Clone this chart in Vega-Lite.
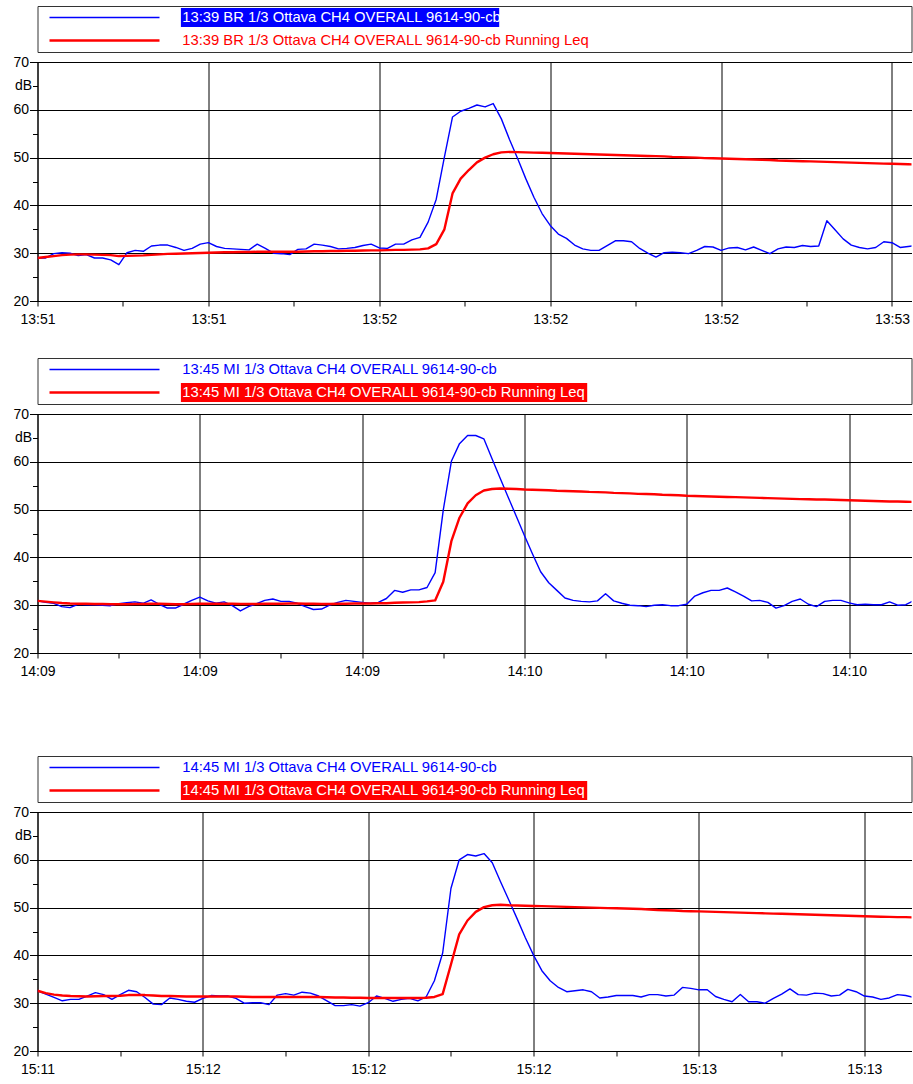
{
  "$schema": "https://vega.github.io/schema/vega-lite/v6.json",
  "padding": {"left": 12.5, "top": 5, "right": 0, "bottom": 0},
  "bounds": "flush",
  "spacing": 10,
  "datasets": {
    "g1": [
      {"series": "L", "label": "13:39 BR 1/3 Ottava CH4 OVERALL 9614-90-cb"},
      {"series": "Q", "label": "13:39 BR 1/3 Ottava CH4 OVERALL 9614-90-cb Running Leq"}
    ],
    "g2": [
      {"series": "L", "label": "13:45 MI 1/3 Ottava CH4 OVERALL 9614-90-cb"},
      {"series": "Q", "label": "13:45 MI 1/3 Ottava CH4 OVERALL 9614-90-cb Running Leq"}
    ],
    "g3": [
      {"series": "L", "label": "14:45 MI 1/3 Ottava CH4 OVERALL 9614-90-cb"},
      {"series": "Q", "label": "14:45 MI 1/3 Ottava CH4 OVERALL 9614-90-cb Running Leq"}
    ],
    "p1": [
      {"s":49880,"L":29.0,"Q":29.0},{"s":49881,"L":29.0,"Q":29.2},{"s":49882,"L":29.9,"Q":29.4},{"s":49883,"L":30.1,"Q":29.6},
      {"s":49884,"L":30.0,"Q":29.7},{"s":49885,"L":29.5,"Q":29.75},{"s":49886,"L":29.7,"Q":29.75},{"s":49887,"L":29.0,"Q":29.7},
      {"s":49888,"L":29.0,"Q":29.65},{"s":49889,"L":28.6,"Q":29.6},{"s":49890,"L":27.6,"Q":29.4},{"s":49891,"L":30.1,"Q":29.45},
      {"s":49892,"L":30.6,"Q":29.5},{"s":49893,"L":30.4,"Q":29.55},{"s":49894,"L":31.5,"Q":29.65},{"s":49895,"L":31.7,"Q":29.75},
      {"s":49896,"L":31.7,"Q":29.85},{"s":49897,"L":31.2,"Q":29.9},{"s":49898,"L":30.6,"Q":29.95},{"s":49899,"L":31.0,"Q":30.0},
      {"s":49900,"L":31.9,"Q":30.05},{"s":49901,"L":32.2,"Q":30.1},{"s":49902,"L":31.4,"Q":30.15},{"s":49903,"L":31.0,"Q":30.2},
      {"s":49904,"L":30.9,"Q":30.2},{"s":49905,"L":30.8,"Q":30.25},{"s":49906,"L":30.7,"Q":30.25},{"s":49907,"L":31.9,"Q":30.3},
      {"s":49908,"L":31.0,"Q":30.3},{"s":49909,"L":30.0,"Q":30.3},{"s":49910,"L":29.9,"Q":30.3},{"s":49911,"L":29.7,"Q":30.3},
      {"s":49912,"L":30.8,"Q":30.3},{"s":49913,"L":30.9,"Q":30.35},{"s":49914,"L":31.9,"Q":30.4},{"s":49915,"L":31.7,"Q":30.4},
      {"s":49916,"L":31.4,"Q":30.45},{"s":49917,"L":30.9,"Q":30.45},{"s":49918,"L":31.0,"Q":30.5},{"s":49919,"L":31.2,"Q":30.5},
      {"s":49920,"L":31.6,"Q":30.55},{"s":49921,"L":31.9,"Q":30.6},{"s":49922,"L":31.1,"Q":30.6},{"s":49923,"L":31.0,"Q":30.65},
      {"s":49924,"L":31.9,"Q":30.7},{"s":49925,"L":31.9,"Q":30.7},{"s":49926,"L":32.8,"Q":30.75},{"s":49927,"L":33.3,"Q":30.8},
      {"s":49928,"L":36.5,"Q":31.0},{"s":49929,"L":41.3,"Q":31.9},{"s":49930,"L":50.1,"Q":35.0},{"s":49931,"L":58.5,"Q":42.5},
      {"s":49932,"L":59.7,"Q":45.6},{"s":49933,"L":60.3,"Q":47.4},{"s":49934,"L":61.0,"Q":49.0},{"s":49935,"L":60.6,"Q":50.0},
      {"s":49936,"L":61.3,"Q":50.7},{"s":49937,"L":58.1,"Q":51.1},{"s":49938,"L":53.8,"Q":51.2},{"s":49939,"L":49.8,"Q":51.15},
      {"s":49940,"L":45.6,"Q":51.1},{"s":49941,"L":41.7,"Q":51.05},{"s":49942,"L":38.3,"Q":51.0},{"s":49943,"L":35.8,"Q":50.95},
      {"s":49944,"L":34.0,"Q":50.9},{"s":49945,"L":33.1,"Q":50.85},{"s":49946,"L":31.7,"Q":50.8},{"s":49947,"L":30.9,"Q":50.75},
      {"s":49948,"L":30.6,"Q":50.7},{"s":49949,"L":30.6,"Q":50.65},{"s":49950,"L":31.6,"Q":50.6},{"s":49951,"L":32.6,"Q":50.55},
      {"s":49952,"L":32.6,"Q":50.5},{"s":49953,"L":32.4,"Q":50.45},{"s":49954,"L":31.0,"Q":50.4},{"s":49955,"L":30.0,"Q":50.35},
      {"s":49956,"L":29.2,"Q":50.3},{"s":49957,"L":30.1,"Q":50.25},{"s":49958,"L":30.2,"Q":50.15},{"s":49959,"L":30.1,"Q":50.1},
      {"s":49960,"L":29.9,"Q":50.05},{"s":49961,"L":30.6,"Q":50.0},{"s":49962,"L":31.4,"Q":49.9},{"s":49963,"L":31.3,"Q":49.85},
      {"s":49964,"L":30.6,"Q":49.8},{"s":49965,"L":31.1,"Q":49.75},{"s":49966,"L":31.2,"Q":49.7},{"s":49967,"L":30.7,"Q":49.65},
      {"s":49968,"L":31.3,"Q":49.6},{"s":49969,"L":30.6,"Q":49.55},{"s":49970,"L":29.9,"Q":49.5},{"s":49971,"L":30.9,"Q":49.4},
      {"s":49972,"L":31.3,"Q":49.35},{"s":49973,"L":31.2,"Q":49.3},{"s":49974,"L":31.6,"Q":49.25},{"s":49975,"L":31.4,"Q":49.2},
      {"s":49976,"L":31.5,"Q":49.15},{"s":49977,"L":36.8,"Q":49.1},{"s":49978,"L":34.9,"Q":49.05},{"s":49979,"L":33.0,"Q":49.0},
      {"s":49980,"L":31.7,"Q":48.95},{"s":49981,"L":31.2,"Q":48.9},{"s":49982,"L":30.9,"Q":48.85},{"s":49983,"L":31.2,"Q":48.8},
      {"s":49984,"L":32.4,"Q":48.75},{"s":49985,"L":32.2,"Q":48.7},{"s":49986,"L":31.2,"Q":48.65},{"s":49987,"L":31.4,"Q":48.6},
      {"s":49988,"L":31.6,"Q":48.55}
    ],
    "p2": [
      {"s":50940,"L":30.9,"Q":30.9},{"s":50941,"L":30.6,"Q":30.75},{"s":50942,"L":30.4,"Q":30.6},{"s":50943,"L":29.7,"Q":30.45},
      {"s":50944,"L":29.5,"Q":30.35},{"s":50945,"L":30.2,"Q":30.3},{"s":50946,"L":30.1,"Q":30.3},{"s":50947,"L":30.1,"Q":30.25},
      {"s":50948,"L":30.0,"Q":30.25},{"s":50949,"L":29.9,"Q":30.2},{"s":50950,"L":30.3,"Q":30.2},{"s":50951,"L":30.5,"Q":30.2},
      {"s":50952,"L":30.7,"Q":30.25},{"s":50953,"L":30.4,"Q":30.25},{"s":50954,"L":31.1,"Q":30.3},{"s":50955,"L":30.2,"Q":30.3},
      {"s":50956,"L":29.4,"Q":30.25},{"s":50957,"L":29.4,"Q":30.2},{"s":50958,"L":30.2,"Q":30.2},{"s":50959,"L":31.0,"Q":30.25},
      {"s":50960,"L":31.7,"Q":30.3},{"s":50961,"L":30.9,"Q":30.3},{"s":50962,"L":30.4,"Q":30.3},{"s":50963,"L":30.7,"Q":30.3},
      {"s":50964,"L":29.9,"Q":30.3},{"s":50965,"L":28.8,"Q":30.25},{"s":50966,"L":29.7,"Q":30.25},{"s":50967,"L":30.3,"Q":30.25},
      {"s":50968,"L":31.0,"Q":30.3},{"s":50969,"L":31.3,"Q":30.3},{"s":50970,"L":30.8,"Q":30.3},{"s":50971,"L":30.8,"Q":30.35},
      {"s":50972,"L":30.4,"Q":30.35},{"s":50973,"L":29.7,"Q":30.3},{"s":50974,"L":29.1,"Q":30.3},{"s":50975,"L":29.2,"Q":30.25},
      {"s":50976,"L":30.0,"Q":30.25},{"s":50977,"L":30.6,"Q":30.3},{"s":50978,"L":31.0,"Q":30.3},{"s":50979,"L":30.8,"Q":30.35},
      {"s":50980,"L":30.6,"Q":30.35},{"s":50981,"L":30.4,"Q":30.35},{"s":50982,"L":30.6,"Q":30.4},{"s":50983,"L":31.4,"Q":30.4},
      {"s":50984,"L":33.1,"Q":30.5},{"s":50985,"L":32.7,"Q":30.55},{"s":50986,"L":33.2,"Q":30.6},{"s":50987,"L":33.2,"Q":30.65},
      {"s":50988,"L":33.7,"Q":30.8},{"s":50989,"L":36.8,"Q":31.0},{"s":50990,"L":49.9,"Q":34.9},{"s":50991,"L":60.1,"Q":43.4},
      {"s":50992,"L":63.8,"Q":48.3},{"s":50993,"L":65.5,"Q":51.3},{"s":50994,"L":65.5,"Q":53.0},{"s":50995,"L":64.8,"Q":54.0},
      {"s":50996,"L":60.7,"Q":54.3},{"s":50997,"L":56.6,"Q":54.4},{"s":50998,"L":52.6,"Q":54.35},{"s":50999,"L":48.6,"Q":54.3},
      {"s":51000,"L":44.6,"Q":54.2},{"s":51001,"L":40.7,"Q":54.15},{"s":51002,"L":37.0,"Q":54.1},{"s":51003,"L":34.7,"Q":54.05},
      {"s":51004,"L":33.1,"Q":53.95},{"s":51005,"L":31.5,"Q":53.9},{"s":51006,"L":31.0,"Q":53.85},{"s":51007,"L":30.8,"Q":53.8},
      {"s":51008,"L":30.7,"Q":53.7},{"s":51009,"L":30.9,"Q":53.65},{"s":51010,"L":32.4,"Q":53.6},{"s":51011,"L":30.9,"Q":53.5},
      {"s":51012,"L":30.4,"Q":53.45},{"s":51013,"L":30.0,"Q":53.4},{"s":51014,"L":29.9,"Q":53.3},{"s":51015,"L":29.7,"Q":53.25},
      {"s":51016,"L":30.0,"Q":53.2},{"s":51017,"L":30.1,"Q":53.1},{"s":51018,"L":29.9,"Q":53.05},{"s":51019,"L":29.9,"Q":53.0},
      {"s":51020,"L":30.2,"Q":52.9},{"s":51021,"L":31.9,"Q":52.85},{"s":51022,"L":32.6,"Q":52.8},{"s":51023,"L":33.1,"Q":52.75},
      {"s":51024,"L":33.1,"Q":52.7},{"s":51025,"L":33.6,"Q":52.65},{"s":51026,"L":32.8,"Q":52.6},{"s":51027,"L":31.9,"Q":52.55},
      {"s":51028,"L":30.9,"Q":52.5},{"s":51029,"L":31.0,"Q":52.45},{"s":51030,"L":30.6,"Q":52.4},{"s":51031,"L":29.4,"Q":52.35},
      {"s":51032,"L":29.9,"Q":52.3},{"s":51033,"L":30.8,"Q":52.25},{"s":51034,"L":31.3,"Q":52.2},{"s":51035,"L":30.2,"Q":52.15},
      {"s":51036,"L":29.7,"Q":52.1},{"s":51037,"L":30.8,"Q":52.1},{"s":51038,"L":31.0,"Q":52.05},{"s":51039,"L":31.0,"Q":52.0},
      {"s":51040,"L":30.5,"Q":51.95},{"s":51041,"L":30.1,"Q":51.9},{"s":51042,"L":30.2,"Q":51.85},{"s":51043,"L":30.1,"Q":51.8},
      {"s":51044,"L":30.1,"Q":51.75},{"s":51045,"L":30.7,"Q":51.7},{"s":51046,"L":30.0,"Q":51.7},{"s":51047,"L":30.1,"Q":51.65},
      {"s":51048,"L":31.0,"Q":51.6}
    ],
    "p3": [
      {"s":54700,"L":32.6,"Q":32.6},{"s":54701,"L":31.9,"Q":32.1},{"s":54702,"L":31.2,"Q":31.8},{"s":54703,"L":30.5,"Q":31.6},
      {"s":54704,"L":30.8,"Q":31.5},{"s":54705,"L":30.8,"Q":31.45},{"s":54706,"L":31.5,"Q":31.4},{"s":54707,"L":32.2,"Q":31.45},
      {"s":54708,"L":31.8,"Q":31.5},{"s":54709,"L":30.8,"Q":31.5},{"s":54710,"L":31.8,"Q":31.55},{"s":54711,"L":32.7,"Q":31.7},
      {"s":54712,"L":32.4,"Q":31.75},{"s":54713,"L":31.2,"Q":31.7},{"s":54714,"L":29.8,"Q":31.6},{"s":54715,"L":29.7,"Q":31.5},
      {"s":54716,"L":31.1,"Q":31.5},{"s":54717,"L":30.8,"Q":31.45},{"s":54718,"L":30.4,"Q":31.4},{"s":54719,"L":30.2,"Q":31.4},
      {"s":54720,"L":31.0,"Q":31.4},{"s":54721,"L":31.6,"Q":31.4},{"s":54722,"L":31.5,"Q":31.4},{"s":54723,"L":31.5,"Q":31.4},
      {"s":54724,"L":31.0,"Q":31.4},{"s":54725,"L":30.0,"Q":31.35},{"s":54726,"L":30.1,"Q":31.3},{"s":54727,"L":30.1,"Q":31.3},
      {"s":54728,"L":29.7,"Q":31.3},{"s":54729,"L":31.7,"Q":31.3},{"s":54730,"L":32.0,"Q":31.3},{"s":54731,"L":31.7,"Q":31.3},
      {"s":54732,"L":32.3,"Q":31.3},{"s":54733,"L":32.1,"Q":31.3},{"s":54734,"L":31.5,"Q":31.3},{"s":54735,"L":30.5,"Q":31.25},
      {"s":54736,"L":29.5,"Q":31.2},{"s":54737,"L":29.5,"Q":31.2},{"s":54738,"L":29.7,"Q":31.15},{"s":54739,"L":29.4,"Q":31.15},
      {"s":54740,"L":30.1,"Q":31.1},{"s":54741,"L":31.5,"Q":31.1},{"s":54742,"L":31.0,"Q":31.1},{"s":54743,"L":30.4,"Q":31.1},
      {"s":54744,"L":30.8,"Q":31.1},{"s":54745,"L":31.0,"Q":31.1},{"s":54746,"L":30.5,"Q":31.1},{"s":54747,"L":31.3,"Q":31.15},
      {"s":54748,"L":34.7,"Q":31.3},{"s":54749,"L":40.5,"Q":31.9},{"s":54750,"L":54.0,"Q":38.1},{"s":54751,"L":60.0,"Q":44.4},
      {"s":54752,"L":61.1,"Q":47.3},{"s":54753,"L":60.8,"Q":49.1},{"s":54754,"L":61.3,"Q":50.1},{"s":54755,"L":59.4,"Q":50.5},
      {"s":54756,"L":55.4,"Q":50.6},{"s":54757,"L":51.6,"Q":50.5},{"s":54758,"L":47.7,"Q":50.45},{"s":54759,"L":43.7,"Q":50.4},
      {"s":54760,"L":40.0,"Q":50.35},{"s":54761,"L":36.8,"Q":50.3},{"s":54762,"L":34.7,"Q":50.25},{"s":54763,"L":33.3,"Q":50.2},
      {"s":54764,"L":32.4,"Q":50.15},{"s":54765,"L":32.6,"Q":50.1},{"s":54766,"L":32.8,"Q":50.05},{"s":54767,"L":32.4,"Q":50.0},
      {"s":54768,"L":31.1,"Q":49.95},{"s":54769,"L":31.3,"Q":49.9},{"s":54770,"L":31.6,"Q":49.85},{"s":54771,"L":31.6,"Q":49.8},
      {"s":54772,"L":31.6,"Q":49.75},{"s":54773,"L":31.3,"Q":49.7},{"s":54774,"L":31.8,"Q":49.6},{"s":54775,"L":31.8,"Q":49.5},
      {"s":54776,"L":31.5,"Q":49.45},{"s":54777,"L":31.7,"Q":49.4},{"s":54778,"L":33.3,"Q":49.3},{"s":54779,"L":33.1,"Q":49.25},
      {"s":54780,"L":32.8,"Q":49.2},{"s":54781,"L":32.8,"Q":49.15},{"s":54782,"L":31.4,"Q":49.1},{"s":54783,"L":30.8,"Q":49.05},
      {"s":54784,"L":30.3,"Q":49.0},{"s":54785,"L":31.8,"Q":48.95},{"s":54786,"L":30.3,"Q":48.9},{"s":54787,"L":30.3,"Q":48.85},
      {"s":54788,"L":30.0,"Q":48.8},{"s":54789,"L":31.0,"Q":48.75},{"s":54790,"L":31.9,"Q":48.7},{"s":54791,"L":33.0,"Q":48.65},
      {"s":54792,"L":31.8,"Q":48.6},{"s":54793,"L":31.7,"Q":48.55},{"s":54794,"L":32.1,"Q":48.5},{"s":54795,"L":32.0,"Q":48.45},
      {"s":54796,"L":31.5,"Q":48.4},{"s":54797,"L":31.7,"Q":48.35},{"s":54798,"L":32.9,"Q":48.3},{"s":54799,"L":32.4,"Q":48.25},
      {"s":54800,"L":31.5,"Q":48.2},{"s":54801,"L":31.3,"Q":48.15},{"s":54802,"L":30.8,"Q":48.1},{"s":54803,"L":31.1,"Q":48.05},
      {"s":54804,"L":31.8,"Q":48.0},{"s":54805,"L":31.6,"Q":48.0},{"s":54806,"L":31.2,"Q":47.95}
    ]
  },
  "vconcat": [
    {
      "width": 874, "height": 46,
      "data": {"name": "g1"},
      "view": {"stroke": "#333"},
      "encoding": {"y": {"field": "series", "type": "nominal", "scale": {"type": "band", "domain": ["L", "Q"], "paddingInner": 0.17, "paddingOuter": 0.085}, "axis": null}},
      "layer": [
        {"mark": {"type": "rule"}, "encoding": {
          "x": {"datum": 12, "type": "quantitative", "scale": {"domain": [0, 874], "nice": false, "zero": false}, "axis": null},
          "x2": {"datum": 122},
          "color": {"field": "series", "type": "nominal", "scale": {"domain": ["L", "Q"], "range": ["#0000FF", "#FF0000"]}, "legend": null},
          "strokeWidth": {"condition": {"test": "datum.series == 'Q'", "value": 2.4}, "value": 1.4}}},
        {"transform": [{"filter": "datum.series == 'L'"}], "mark": {"type": "bar", "color": "#0000FF"}, "encoding": {
          "x": {"datum": 143.4, "type": "quantitative", "axis": null}, "x2": {"datum": 461.7}}},
        {"mark": {"type": "text", "align": "left", "baseline": "middle", "font": "Liberation Sans", "fontSize": 14.8}, "encoding": {
          "x": {"datum": 144.7, "type": "quantitative", "axis": null},
          "text": {"field": "label"},
          "color": {"condition": {"test": "datum.series == 'L'", "value": "#FFFFFF"}, "value": "#FF0000"}}}
      ]
    },
    {
      "width": 874, "height": 239,
      "data": {"name": "p1"},
      "transform": [{"fold": ["L", "Q"], "as": ["series", "dB"]}],
      "mark": {"type": "line", "clip": true, "strokeJoin": "round"},
      "encoding": {
        "x": {"field": "s", "type": "quantitative", "scale": {"domain": [49880, 49987.4], "nice": false, "zero": false},
          "axis": {"title": null, "values": [49880, 49890.5, 49901, 49911.5, 49922, 49932.5, 49943, 49953.5, 49964, 49974.5, 49985],
            "labelExpr": "(datum.value - 49880) % 21 == 0 ? utcFormat(datum.value * 1000, '%H:%M') : ''",
            "gridOpacity": {"condition": {"test": "(datum.value - 49880) % 21 == 0", "value": 1}, "value": 0},
            "tickSize": 5, "labelPadding": 6}},
        "y": {"field": "dB", "type": "quantitative", "scale": {"domain": [20, 70], "nice": false, "zero": false},
          "axis": {"title": null, "values": [20, 25, 30, 35, 40, 45, 50, 55, 60, 65, 70],
            "labelExpr": "datum.value == 65 ? 'dB' : (datum.value % 10 == 0 ? datum.label : '')",
            "gridOpacity": {"condition": {"test": "datum.value % 10 == 0", "value": 1}, "value": 0},
            "tickSize": {"condition": {"test": "datum.value % 10 == 0", "value": 8}, "value": 5}, "labelPadding": 1}},
        "color": {"field": "series", "type": "nominal", "scale": {"domain": ["L", "Q"], "range": ["#0000FF", "#FF0000"]}, "legend": null},
        "strokeWidth": {"condition": {"test": "datum.series == 'Q'", "value": 2.4}, "value": 1.4}
      }
    },
    {
      "width": 874, "height": 36.6,
      "data": {"values": []},
      "mark": {"type": "point"},
      "encoding": {}
    },
    {
      "width": 874, "height": 46,
      "data": {"name": "g2"},
      "view": {"stroke": "#333"},
      "encoding": {"y": {"field": "series", "type": "nominal", "scale": {"type": "band", "domain": ["L", "Q"], "paddingInner": 0.17, "paddingOuter": 0.085}, "axis": null}},
      "layer": [
        {"mark": {"type": "rule"}, "encoding": {
          "x": {"datum": 12, "type": "quantitative", "scale": {"domain": [0, 874], "nice": false, "zero": false}, "axis": null},
          "x2": {"datum": 122},
          "color": {"field": "series", "type": "nominal", "scale": {"domain": ["L", "Q"], "range": ["#0000FF", "#FF0000"]}, "legend": null},
          "strokeWidth": {"condition": {"test": "datum.series == 'Q'", "value": 2.4}, "value": 1.4}}},
        {"transform": [{"filter": "datum.series == 'Q'"}], "mark": {"type": "bar", "color": "#FF0000"}, "encoding": {
          "x": {"datum": 143.4, "type": "quantitative", "axis": null}, "x2": {"datum": 549.7}}},
        {"mark": {"type": "text", "align": "left", "baseline": "middle", "font": "Liberation Sans", "fontSize": 14.8}, "encoding": {
          "x": {"datum": 144.7, "type": "quantitative", "axis": null},
          "text": {"field": "label"},
          "color": {"condition": {"test": "datum.series == 'Q'", "value": "#FFFFFF"}, "value": "#0000FF"}}}
      ]
    },
    {
      "width": 874, "height": 239,
      "data": {"name": "p2"},
      "transform": [{"fold": ["L", "Q"], "as": ["series", "dB"]}],
      "mark": {"type": "line", "clip": true, "strokeJoin": "round"},
      "encoding": {
        "x": {"field": "s", "type": "quantitative", "scale": {"domain": [50940, 51047.7], "nice": false, "zero": false},
          "axis": {"title": null, "values": [50940, 50950, 50960, 50970, 50980, 50990, 51000, 51010, 51020, 51030, 51040],
            "labelExpr": "datum.value % 20 == 0 ? utcFormat(datum.value * 1000, '%H:%M') : ''",
            "gridOpacity": {"condition": {"test": "datum.value % 20 == 0", "value": 1}, "value": 0},
            "tickSize": 5, "labelPadding": 6}},
        "y": {"field": "dB", "type": "quantitative", "scale": {"domain": [20, 70], "nice": false, "zero": false},
          "axis": {"title": null, "values": [20, 25, 30, 35, 40, 45, 50, 55, 60, 65, 70],
            "labelExpr": "datum.value == 65 ? 'dB' : (datum.value % 10 == 0 ? datum.label : '')",
            "gridOpacity": {"condition": {"test": "datum.value % 10 == 0", "value": 1}, "value": 0},
            "tickSize": {"condition": {"test": "datum.value % 10 == 0", "value": 8}, "value": 5}, "labelPadding": 1}},
        "color": {"field": "series", "type": "nominal", "scale": {"domain": ["L", "Q"], "range": ["#0000FF", "#FF0000"]}, "legend": null},
        "strokeWidth": {"condition": {"test": "datum.series == 'Q'", "value": 2.4}, "value": 1.4}
      }
    },
    {
      "width": 874, "height": 82.4,
      "data": {"values": []},
      "mark": {"type": "point"},
      "encoding": {}
    },
    {
      "width": 874, "height": 46,
      "data": {"name": "g3"},
      "view": {"stroke": "#333"},
      "encoding": {"y": {"field": "series", "type": "nominal", "scale": {"type": "band", "domain": ["L", "Q"], "paddingInner": 0.17, "paddingOuter": 0.085}, "axis": null}},
      "layer": [
        {"mark": {"type": "rule"}, "encoding": {
          "x": {"datum": 12, "type": "quantitative", "scale": {"domain": [0, 874], "nice": false, "zero": false}, "axis": null},
          "x2": {"datum": 122},
          "color": {"field": "series", "type": "nominal", "scale": {"domain": ["L", "Q"], "range": ["#0000FF", "#FF0000"]}, "legend": null},
          "strokeWidth": {"condition": {"test": "datum.series == 'Q'", "value": 2.4}, "value": 1.4}}},
        {"transform": [{"filter": "datum.series == 'Q'"}], "mark": {"type": "bar", "color": "#FF0000"}, "encoding": {
          "x": {"datum": 143.4, "type": "quantitative", "axis": null}, "x2": {"datum": 549.7}}},
        {"mark": {"type": "text", "align": "left", "baseline": "middle", "font": "Liberation Sans", "fontSize": 14.8}, "encoding": {
          "x": {"datum": 144.7, "type": "quantitative", "axis": null},
          "text": {"field": "label"},
          "color": {"condition": {"test": "datum.series == 'Q'", "value": "#FFFFFF"}, "value": "#0000FF"}}}
      ]
    },
    {
      "width": 874, "height": 239,
      "data": {"name": "p3"},
      "transform": [{"fold": ["L", "Q"], "as": ["series", "dB"]}],
      "mark": {"type": "line", "clip": true, "strokeJoin": "round"},
      "encoding": {
        "x": {"field": "s", "type": "quantitative", "scale": {"domain": [54700, 54805.7], "nice": false, "zero": false},
          "axis": {"title": null, "values": [54700, 54710, 54720, 54730, 54740, 54750, 54760, 54770, 54780, 54790, 54800],
            "labelExpr": "datum.value % 20 == 0 ? utcFormat(datum.value * 1000, '%H:%M') : ''",
            "gridOpacity": {"condition": {"test": "datum.value % 20 == 0", "value": 1}, "value": 0},
            "tickSize": 5, "labelPadding": 6}},
        "y": {"field": "dB", "type": "quantitative", "scale": {"domain": [20, 70], "nice": false, "zero": false},
          "axis": {"title": null, "values": [20, 25, 30, 35, 40, 45, 50, 55, 60, 65, 70],
            "labelExpr": "datum.value == 65 ? 'dB' : (datum.value % 10 == 0 ? datum.label : '')",
            "gridOpacity": {"condition": {"test": "datum.value % 10 == 0", "value": 1}, "value": 0},
            "tickSize": {"condition": {"test": "datum.value % 10 == 0", "value": 8}, "value": 5}, "labelPadding": 1}},
        "color": {"field": "series", "type": "nominal", "scale": {"domain": ["L", "Q"], "range": ["#0000FF", "#FF0000"]}, "legend": null},
        "strokeWidth": {"condition": {"test": "datum.series == 'Q'", "value": 2.4}, "value": 1.4}
      }
    }
  ],
  "config": {
    "view": {"stroke": null},
    "axis": {
      "domainColor": "#000000", "tickColor": "#000000", "gridColor": "#000000", "labelColor": "#000000",
      "labelFont": "Liberation Sans", "labelFontSize": 14, "labelFlush": false, "labelOverlap": false,
      "domainWidth": 1, "gridWidth": 1, "tickWidth": 1
    }
  }
}
